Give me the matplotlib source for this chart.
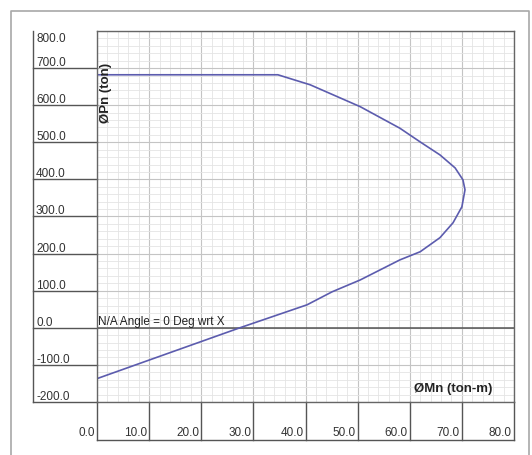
import matplotlib.pyplot as plt
from matplotlib.lines import Line2D
from matplotlib.ticker import MultipleLocator

plt.rcParams['font.family'] = ['Liberation Sans', 'DejaVu Sans']

# interaction diagram points (phiMn in ton-m, phiPn in ton)
mn = [0.0, 27.4, 40.3, 45.1, 50.5, 58.1, 62.0, 65.8, 68.3, 70.0, 70.6,
      70.2, 68.7, 65.8, 62.0, 58.1, 50.5, 40.9, 34.7, 0.0]
pn = [-137, 0, 62, 97, 129, 183, 205, 243, 283, 326, 372,
      399, 431, 466, 501, 538, 596, 655, 682, 682]

x_ticks = [0, 10, 20, 30, 40, 50, 60, 70, 80]
y_ticks = [800, 700, 600, 500, 400, 300, 200, 100, 0, -100, -200]

fig = plt.figure(figsize=(5.32, 4.55), dpi=100)
W, H = 532, 455
# outer frame (left, top, right)
fx0, fx1, fy1 = 10.5 / W, 528.5 / W, 1 - 10.5 / H
fig.add_artist(Line2D([fx0, fx0, fx1, fx1], [0, fy1, fy1, 0],
                      transform=fig.transFigure, color='#a8a8a8', linewidth=1.2))

ax = fig.add_axes([97 / W, 1 - 402 / H, 417 / W, 371 / H])
ax.set_xlim(0, 80)
ax.set_ylim(-200, 800)

ax.xaxis.set_major_locator(MultipleLocator(10))
ax.xaxis.set_minor_locator(MultipleLocator(2))
ax.yaxis.set_major_locator(MultipleLocator(100))
ax.yaxis.set_minor_locator(MultipleLocator(20))
ax.grid(which='major', color='#c4c4c4', linewidth=0.8)
ax.grid(which='minor', color='#e4e4e4', linewidth=0.6)
ax.set_axisbelow(True)
ax.tick_params(which='both', length=0, labelbottom=False, labelleft=False)
for s in ax.spines.values():
    s.set_color('#666666')
    s.set_linewidth(1.0)

ax.axhline(0, color='#555555', linewidth=1.1)
ax.plot(mn, pn, color='#5c5cae', linewidth=1.2)

# y label column
ytr = ax.get_yaxis_transform()
col_left = -64 / 417
ax.plot([col_left, col_left], [-200, 800], transform=ytr, color='#555555',
        linewidth=1.0, clip_on=False)
for v in y_ticks:
    if v < 800:
        ax.plot([col_left, 0], [v, v], transform=ytr, color='#555555',
                linewidth=1.0, clip_on=False)
        ax.annotate(f'{v:.1f}', (col_left + 3 / 417, v), xycoords=ytr,
                    xytext=(0, 1.5), textcoords='offset points',
                    ha='left', va='baseline', fontsize=8.5, color='#333333')
    else:
        ax.annotate(f'{v:.1f}', (col_left + 3 / 417, v), xycoords=ytr,
                    xytext=(0, -8), textcoords='offset points',
                    ha='left', va='baseline', fontsize=8.5, color='#333333')

# x label row
xtr = ax.get_xaxis_transform()
row_bottom = -38 / 371
for v in x_ticks:
    ax.plot([v, v], [row_bottom, 0], transform=xtr, color='#555555',
            linewidth=1.0, clip_on=False)
    ax.annotate(f'{v:.1f}', (v, -31 / 371), xycoords=xtr,
                xytext=(-1.5, 0), textcoords='offset points',
                ha='right', va='center', fontsize=8.5, color='#333333')
ax.plot([0, 80], [row_bottom, row_bottom], transform=xtr, color='#555555',
        linewidth=1.0, clip_on=False)

ax.text(0.002, 8, 'N/A Angle = 0 Deg wrt X', transform=ytr, ha='left',
        va='baseline', fontsize=8.5, color='#222222')
ax.text(0.947, 0.035, 'ØMn (ton-m)', transform=ax.transAxes, ha='right',
        va='center', fontsize=9.5, fontweight='bold', color='#222222')
ax.text(0.008, 0.914, 'ØPn (ton)', transform=ax.transAxes, ha='left',
        va='top', rotation=90, fontsize=9.5, fontweight='bold', color='#222222')

fig.savefig('out.png', dpi=100)
